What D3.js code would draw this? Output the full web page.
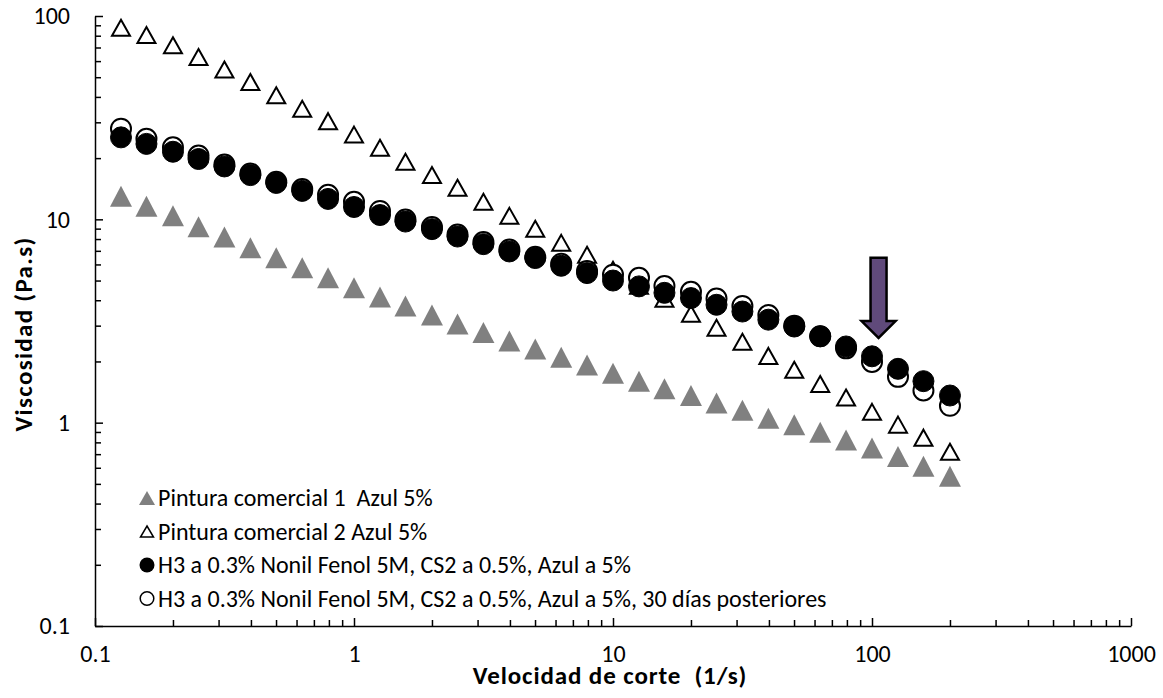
<!DOCTYPE html>
<html>
<head>
<meta charset="utf-8">
<script src="https://cdn.jsdelivr.net/npm/d3@7"></script>
<style>
body { margin: 0; background: #fff; }
text { font-family: Carlito, Lato, sans-serif; fill: #000; }
</style>
</head>
<body>
<svg id="chart" width="1163" height="698"></svg>
<script>

/***DATA***/

const shearRate = [0.126, 0.158, 0.2, 0.251, 0.316, 0.398, 0.501, 0.631, 0.794,
    1, 1.26, 1.58, 2, 2.51, 3.16, 3.98, 5.01, 6.31, 7.94,
    10, 12.6, 15.8, 20, 25.1, 31.6, 39.8, 50.1, 63.1, 79.4,
    100, 126, 158, 200];

const pintura1 = [13.0, 11.6, 10.4, 9.19, 8.18, 7.24, 6.47, 5.78, 5.16,
    4.61, 4.15, 3.75, 3.38, 3.06, 2.78, 2.52, 2.30, 2.10, 1.92,
    1.75, 1.60, 1.47, 1.36, 1.25, 1.15, 1.05, 0.978, 0.896, 0.822,
    0.751, 0.681, 0.610, 0.545];

const pintura2 = [87.5, 80.7, 71.8, 62.9, 54.5, 47.3, 40.8, 35.0, 30.4,
    26.1, 22.5, 19.2, 16.5, 14.3, 12.2, 10.4, 8.98, 7.66, 6.69,
    5.65, 4.71, 4.07, 3.43, 2.93, 2.50, 2.13, 1.82, 1.55, 1.33,
    1.13, 0.978, 0.844, 0.720];

const h3 = [25.3, 23.5, 21.5, 19.8, 18.2, 16.5, 15.1, 13.8, 12.6,
    11.5, 10.5, 9.75, 8.95, 8.23, 7.55, 6.95, 6.45, 5.91, 5.44,
    5.00, 4.68, 4.35, 4.10, 3.80, 3.52, 3.21, 2.97, 2.66, 2.37,
    2.12, 1.84, 1.60, 1.36];

const h3After30 = [27.9, 24.9, 22.6, 20.6, 18.6, 16.8, 15.3, 14.1, 13.2,
    12.2, 11.0, 9.98, 9.16, 8.42, 7.73, 7.11, 6.54, 6.04, 5.57,
    5.34, 5.16, 4.70, 4.40, 4.08, 3.75, 3.38, 3.00, 2.66, 2.32,
    1.99, 1.68, 1.44, 1.21];

const seriesNames = [
    "Pintura comercial 1  Azul 5%",
    "Pintura comercial 2 Azul 5%",
    "H3 a 0.3% Nonil Fenol 5M, CS2 a 0.5%, Azul a 5%",
    "H3 a 0.3% Nonil Fenol 5M, CS2 a 0.5%, Azul a 5%, 30 días posteriores"
];

const xTickLabels = ["0.1", "1", "10", "100", "1000"];
const yTickLabels = ["0.1", "1", "10", "100"];

// arrow: shear rate, top of shaft, start of head, tip (Pa.s)
const arrowMark = [106, 6.47, 3.16, 2.61];

/***GRAPH***/

const margin = {top: 16, left: 95};
const width = 1036;
const height = 610;

const svg = d3.select("#chart");
const g = svg.append("g")
    .attr("transform", "translate(" + margin.left + "," + margin.top + ")");

const x = d3.scaleLog().domain([0.1, 1000]).range([0, width]);
const y = d3.scaleLog().domain([0.1, 100]).range([height, 0]);

const xMajor = xTickLabels.map(Number);
const yMajor = yTickLabels.map(Number);
const xMinor = x.ticks().filter(function (t) { return xMajor.indexOf(+t.toPrecision(3)) < 0; });
const yMinor = y.ticks().filter(function (t) { return yMajor.indexOf(+t.toPrecision(3)) < 0; });

// minor ticks first, no labels
g.append("g")
    .attr("transform", "translate(0," + height + ")")
    .call(d3.axisBottom(x).tickValues(xMinor).tickSize(-6).tickFormat(""))
    .call(function (a) { a.select(".domain").remove(); });
g.append("g")
    .call(d3.axisLeft(y).tickValues(yMinor).tickSize(-6).tickFormat(""))
    .call(function (a) { a.select(".domain").remove(); });

g.append("g")
    .attr("transform", "translate(0," + height + ")")
    .call(d3.axisBottom(x).tickValues(xMajor)
        .tickSizeInner(-8).tickSizeOuter(0).tickPadding(19)
        .tickFormat(function (d, i) { return xTickLabels[i]; }));

g.append("g")
    .call(d3.axisLeft(y).tickValues(yMajor)
        .tickSizeInner(-8).tickSizeOuter(0).tickPadding(25)
        .tickFormat(function (d, i) { return yTickLabels[i]; }));

g.selectAll(".tick line").attr("stroke", "#000").attr("stroke-width", 1.5);
g.selectAll(".domain").attr("stroke", "#000").attr("stroke-width", 1.5);
g.selectAll(".tick text").attr("font-size", 24).attr("fill", "#000")
    .style("font-family", "Carlito, Lato, sans-serif");

// axis titles
svg.append("text")
    .attr("x", margin.left + x(10) - 3)
    .attr("y", 684)
    .attr("text-anchor", "middle")
    .attr("font-size", 25)
    .attr("font-weight", "bold")
    .attr("letter-spacing", 0.9)
    .style("white-space", "pre")
    .text("Velocidad de corte  (1/s)");

svg.append("text")
    .attr("transform", "translate(32,334) rotate(-90)")
    .attr("text-anchor", "middle")
    .attr("font-size", 25)
    .attr("font-weight", "bold")
    .attr("letter-spacing", 1.3)
    .text("Viscosidad (Pa.s)");

/***MARKERS***/

function triangle(w, h) {
    return "M0," + (-h / 2) + "L" + (w / 2) + "," + (h / 2) + "L" + (-w / 2) + "," + (h / 2) + "Z";
}

const rows = shearRate.map(function (s, i) {
    return {x: s, p1: pintura1[i], p2: pintura2[i], h3: h3[i], h30: h3After30[i]};
});

g.selectAll(".p1")
    .data(rows)
    .enter().append("path")
    .attr("class", "p1")
    .attr("transform", function (d) { return "translate(" + x(d.x) + "," + y(d.p1) + ")"; })
    .attr("d", triangle(22, 21))
    .attr("fill", "#808080");

g.selectAll(".p2")
    .data(rows)
    .enter().append("path")
    .attr("class", "p2")
    .attr("transform", function (d) { return "translate(" + x(d.x) + "," + y(d.p2) + ")"; })
    .attr("d", triangle(18, 16))
    .attr("fill", "#fff")
    .attr("stroke", "#000")
    .attr("stroke-width", 2);

g.selectAll(".h30")
    .data(rows)
    .enter().append("circle")
    .attr("class", "h30")
    .attr("cx", function (d) { return x(d.x); })
    .attr("cy", function (d) { return y(d.h30); })
    .attr("r", 10)
    .attr("fill", "#fff")
    .attr("stroke", "#000")
    .attr("stroke-width", 2);

g.selectAll(".h3")
    .data(rows)
    .enter().append("circle")
    .attr("class", "h3")
    .attr("cx", function (d) { return x(d.x); })
    .attr("cy", function (d) { return y(d.h3); })
    .attr("r", 10.5)
    .attr("fill", "#000")
    .attr("stroke", "#000")
    .attr("stroke-width", 1);

/***ARROW***/

const ax = x(arrowMark[0]);
const aTop = y(arrowMark[1]);
const aHead = y(arrowMark[2]);
const aTip = y(arrowMark[3]);
g.append("path")
    .attr("d", "M" + (ax - 8) + "," + aTop + "L" + (ax + 8) + "," + aTop +
        "L" + (ax + 8) + "," + aHead + "L" + (ax + 17) + "," + aHead +
        "L" + ax + "," + aTip + "L" + (ax - 17) + "," + aHead +
        "L" + (ax - 8) + "," + aHead + "Z")
    .attr("fill", "#604a7b")
    .attr("stroke", "#000")
    .attr("stroke-width", 2.5);

/***LEGEND***/

const legend = svg.append("g").attr("transform", "translate(147,498)");
const items = legend.selectAll(".item")
    .data(seriesNames)
    .enter().append("g")
    .attr("class", "item")
    .attr("transform", function (d, i) { return "translate(0," + (i * 33.5) + ")"; });

items.each(function (d, i) {
    const it = d3.select(this);
    if (i === 0) {
        it.append("path").attr("d", triangle(16, 14)).attr("fill", "#808080");
    } else if (i === 1) {
        it.append("path").attr("d", triangle(13, 11)).attr("fill", "#fff")
            .attr("stroke", "#000").attr("stroke-width", 1.5);
    } else if (i === 2) {
        it.append("circle").attr("r", 7.5).attr("fill", "#000");
    } else {
        it.append("circle").attr("r", 6.8).attr("fill", "#fff")
            .attr("stroke", "#000").attr("stroke-width", 1.5);
    }
    it.append("text")
        .attr("x", 11)
        .attr("dy", "0.35em")
        .attr("font-size", 24)
        .style("white-space", "pre")
        .text(d);
});

</script>
</body>
</html>
